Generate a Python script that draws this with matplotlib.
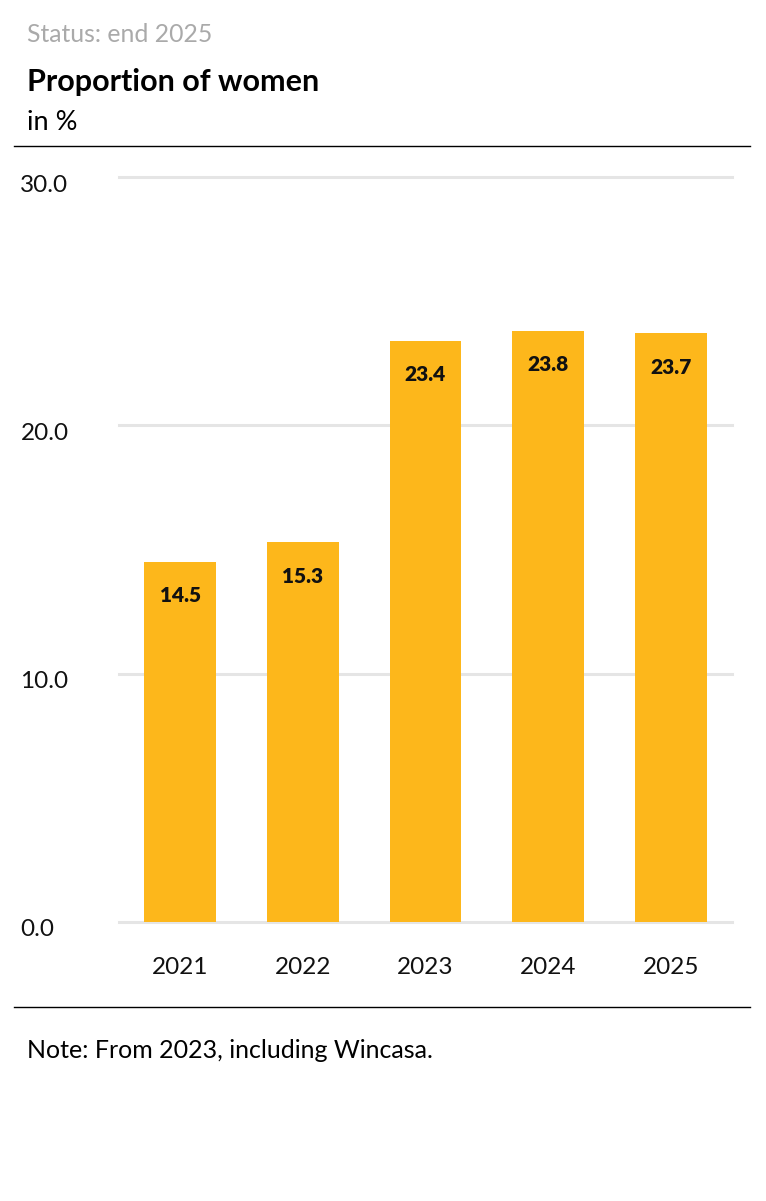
import matplotlib
matplotlib.use("Agg")
import matplotlib.pyplot as plt
from matplotlib.transforms import ScaledTranslation

years = ["2021", "2022", "2023", "2024", "2025"]
values = [14.5, 15.3, 23.4, 23.8, 23.7]
yticks = [0, 10, 20, 30]
ytick_labels = ["0.0", "10.0", "20.0", "30.0"]

FONT = "Lato"
plt.rcParams["font.family"] = [FONT, "DejaVu Sans"]

W, H = 766, 1201
fig = plt.figure(figsize=(W / 100, H / 100), dpi=100)

ax = fig.add_axes([119 / W, (H - 922) / H, (732 - 119) / W, (922 - 177) / H])
x = list(range(len(years)))
ax.bar(x, values, width=0.587, color="#FDB71B", zorder=3)
ax.set_xlim(-0.5, len(years) - 0.5)
ax.set_ylim(0, 30)
ax.set_yticks(yticks)
ax.set_yticklabels(ytick_labels)
ax.set_xticks(x)
ax.set_xticklabels(years)
for s in ax.spines.values():
    s.set_visible(False)
ax.tick_params(axis="both", length=0, labelsize=17.5, colors="#111111")
ax.tick_params(axis="x", pad=25)
ax.tick_params(axis="y", pad=71)
ax.grid(axis="y", color="#e5e5e5", linewidth=2.2, zorder=0)
ax.grid(axis="x", visible=False)
for gl in ax.get_ygridlines():
    gl.set_clip_on(False)
for lab in ax.get_yticklabels():
    lab.set_horizontalalignment("left")
    lab.set_transform(lab.get_transform() + ScaledTranslation(0, -6 / 100, fig.dpi_scale_trans))

for xi, v in zip(x, values):
    ax.annotate(f"{v:.1f}", (xi, v), xytext=(0, -34 * 0.72), textcoords="offset points",
                ha="center", va="center", fontsize=15, fontweight="heavy", color="#111111", zorder=4)

fig.text(27 / W, 1 - 34 / H, "Status: end 2025", fontsize=17.8, color="#aaaaaa", va="center", ha="left")
fig.text(27 / W, 1 - 82 / H, "Proportion of women", fontsize=22, fontweight="bold", color="black", va="center", ha="left")
fig.text(27 / W, 1 - 123 / H, "in %", fontsize=19.5, color="black", va="center", ha="left")
fig.text(27 / W, 1 - 1050 / H, "Note: From 2023, including Wincasa.", fontsize=18, color="black", va="center", ha="left")

for yy in (146, 1007):
    fig.add_artist(plt.Line2D([14 / W, 750 / W], [1 - yy / H, 1 - yy / H], color="black", linewidth=1.0,
                              transform=fig.transFigure))

fig.savefig("out.png", dpi=100, facecolor="white")
